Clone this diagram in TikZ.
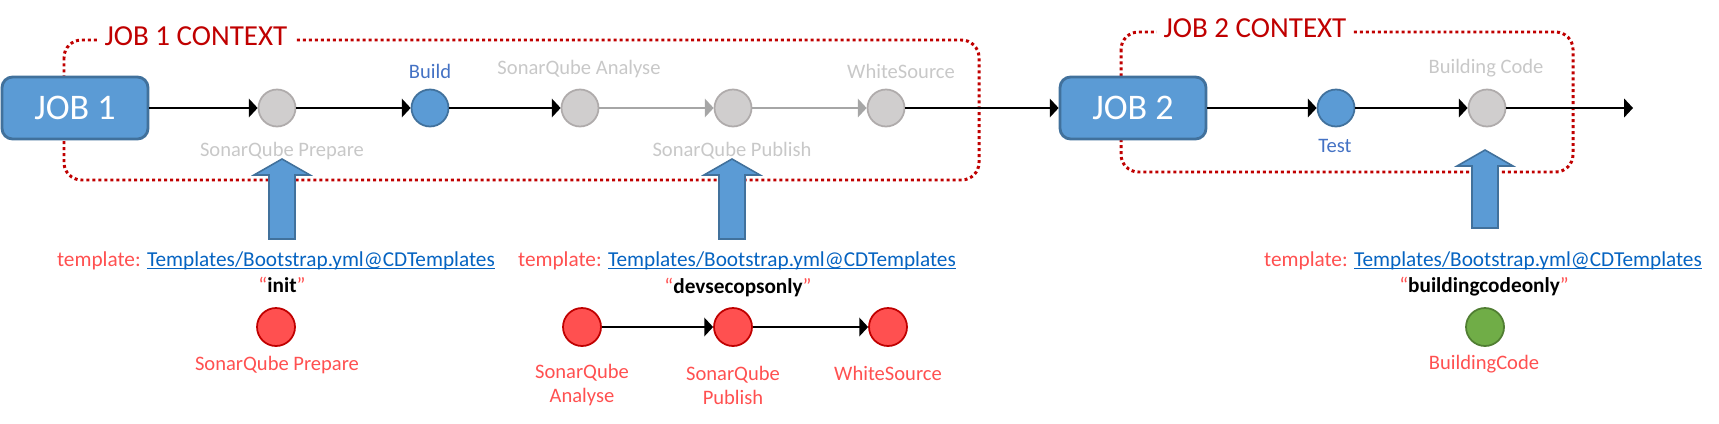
\documentclass[tikz,border=0pt]{standalone}
\usepackage{fontspec}
\setmainfont{Carlito}
\usetikzlibrary{arrows.meta}

\definecolor{jobblue}{HTML}{5B9BD5}
\definecolor{jobedge}{HTML}{41719C}
\definecolor{ctxred}{HTML}{C00000}
\definecolor{offgrey}{HTML}{D0CECE}
\definecolor{offedge}{HTML}{AFABAB}
\definecolor{labgrey}{HTML}{C8C8C8}
\definecolor{labblue}{HTML}{4472C4}
\definecolor{tplred}{HTML}{FF5050}
\definecolor{linkblue}{HTML}{0563C1}
\definecolor{okgreen}{HTML}{70AD47}
\definecolor{okedge}{HTML}{507E32}

\newcommand{\linkline}[1]{\setbox0\hbox{#1}\rlap{\rule[-1.6pt]{\wd0}{0.6pt}}\box0}
\newcommand{\tplref}{template: \textcolor{linkblue}{\linkline{Templates/Bootstrap.yml@CDTemplates}}}

\tikzset{
  job/.style={draw=jobedge, fill=jobblue, line width=1.6pt, rounded corners=6pt,
    minimum width=2.92cm, minimum height=1.24cm, text=white,
    font=\fontsize{20.5}{24}\selectfont},
  ctx/.style={draw=ctxred, line width=1.7pt, dash pattern=on 1.7pt off 1.7pt,
    rounded corners=0.35cm},
  ctxlabel/.style={text=ctxred, fill=white, inner xsep=4pt, inner ysep=1pt,
    font=\fontsize{16.5}{20}\selectfont},
  stepoff/.style={circle, draw=offedge, fill=offgrey, line width=1pt,
    minimum size=0.74cm, inner sep=0pt},
  stepon/.style={stepoff, draw=jobedge, fill=jobblue},
  tplstep/.style={stepoff, draw=ctxred, fill=tplred, minimum size=0.76cm},
  tplok/.style={stepoff, draw=okedge, fill=okgreen, minimum size=0.76cm},
  lab/.style={font=\fontsize{11.7}{13.6}\selectfont, inner sep=0pt, align=center},
  offlab/.style={lab, text=labgrey},
  onlab/.style={lab, text=labblue},
  tpllab/.style={lab, text=tplred},
  tplline/.style={tpllab, font=\fontsize{12.1}{14}\selectfont},
  flow/.style={line width=1.1pt, -{Triangle[length=5pt,width=10.5pt]}},
  flowoff/.style={flow, draw=gray!70, color=gray!70},
  uparrow/.style={draw=jobedge, fill=jobblue, line width=0.9pt}
}

\begin{document}
\begin{tikzpicture}[x=0.02cm, y=-0.02cm]
\useasboundingbox (0,0) rectangle (1719,423);

% job contexts
\draw[ctx] (64,40) rectangle (979,180);
\node[ctxlabel] (ctx1) at (196,36) {JOB 1 CONTEXT};
\draw[ctx] (1121,32) rectangle (1573,172);
\node[ctxlabel] (ctx2) at (1255,28) {JOB 2 CONTEXT};

% pipeline
\node[job] (job1) at (75,108) {JOB 1};
\node[stepoff] (prep) at (277,108) {};
\node[stepon] (build) at (430,108) {};
\node[stepoff] (analyse) at (580,108) {};
\node[stepoff] (publish) at (733,108) {};
\node[stepoff] (white) at (886,108) {};
\node[job] (job2) at (1133,108) {JOB 2};
\node[stepon] (test) at (1336,108) {};
\node[stepoff] (bcode) at (1487,108) {};
\coordinate (end) at (1633,108);

\node[offlab] (prepl) at (282,151) {SonarQube Prepare};
\node[onlab] (buildl) at (430,71) {Build};
\node[offlab] (analysel) at (579,69) {SonarQube Analyse};
\node[offlab] (publishl) at (732,151) {SonarQube Publish};
\node[offlab] (whitel) at (901,71) {WhiteSource};
\node[onlab] (testl) at (1335,146) {Test};
\node[offlab] (bcodel) at (1486,68) {Building Code};

\draw[flow] (job1) -- (prep);
\draw[flow] (prep) -- (build);
\draw[flow] (build) -- (analyse);
\draw[flowoff] (analyse) -- (publish);
\draw[flowoff] (publish) -- (white);
\draw[flow] (white) -- (job2);
\draw[flow] (job2) -- (test);
\draw[flow] (test) -- (bcode);
\draw[flow] (bcode) -- (end);

% template inserts
\foreach \x/\t/\b in {282/159/239, 732/159/239, 1485/150/228}
  \draw[uparrow] (\x-13,\b) -- (\x-13,\t+16) -- (\x-28,\t+16) -- (\x,\t)
    -- (\x+28,\t+16) -- (\x+13,\t+16) -- (\x+13,\b) -- cycle;

\node[tplline] (tpl1) at (276,261) {\tplref};
\node[tplline] (tpl2) at (737,261) {\tplref};
\node[tplline] (tpl3) at (1483,261) {\tplref};

\node[tplline] (par1) at (282,285) {“\textcolor{black}{\textbf{init}}”};
\node[tplline] (par2) at (738,287) {“\textcolor{black}{\textbf{devsecopsonly}}”};
\node[tplline] (par3) at (1484,287) {“\textcolor{black}{\textbf{buildingcodeonly}}”};

\node[tplstep] (tprep) at (276,327) {};
\node[tplstep] (tanalyse) at (582,327) {};
\node[tplstep] (tpublish) at (733,327) {};
\node[tplstep] (twhite) at (888,327) {};
\node[tplok] (tbcode) at (1485,327) {};

\draw[flow] (tanalyse) -- (tpublish);
\draw[flow] (tpublish) -- (twhite);

\node[tpllab] (tprepl) at (277,365) {SonarQube Prepare};
\node[tpllab] (tanalysel) at (582,385) {SonarQube\\Analyse};
\node[tpllab] (tpublishl) at (733,385) {SonarQube\\Publish};
\node[tpllab] (twhitel) at (888,373) {WhiteSource};
\node[tpllab] (tbcodel) at (1484,364) {BuildingCode};

\end{tikzpicture}
\end{document}
